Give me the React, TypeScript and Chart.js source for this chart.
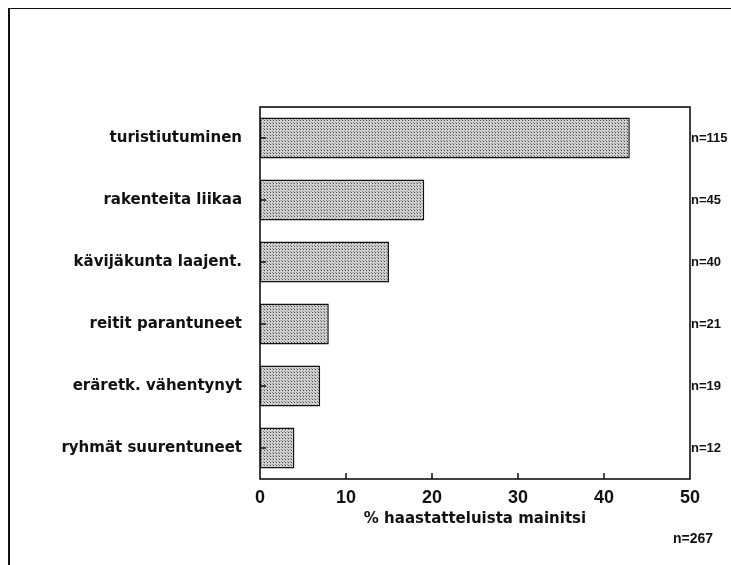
import React, { useEffect, useRef } from "react";
import { Chart, registerables } from "chart.js";

Chart.register(...registerables);

const categories = [
  "turistiutuminen",
  "rakenteita liikaa",
  "kävijäkunta laajent.",
  "reitit parantuneet",
  "eräretk. vähentynyt",
  "ryhmät suurentuneet",
];
const values = [43, 19.1, 15, 8, 7, 4];
const counts = ["n=115", "n=45", "n=40", "n=21", "n=19", "n=12"];
const xTitle = "% haastatteluista mainitsi";
const totalLabel = "n=267";
const xMin = 0;
const xMax = 50;
const xStep = 10;

const FONT = "'Liberation Sans', Arial, Helvetica, sans-serif";
const WIDE = "'DejaVu Sans', 'Liberation Sans', sans-serif";

function makePattern(): CanvasPattern | string {
  const c = document.createElement("canvas");
  c.width = 3;
  c.height = 3;
  const g = c.getContext("2d");
  if (!g) return "#bdbdbd";
  g.fillStyle = "#cfcfcf";
  g.fillRect(0, 0, 3, 3);
  g.fillStyle = "#4a4a4a";
  g.fillRect(1, 1, 1, 1);
  g.fillStyle = "#8a8a8a";
  g.fillRect(0, 0, 1, 1);
  const p = g.createPattern(c, "repeat");
  return p || "#bdbdbd";
}

const boxPlugin = {
  id: "boxPlugin",
  afterDraw(chart: any) {
    const ctx = chart.ctx as CanvasRenderingContext2D;
    const { left, right, top, bottom } = chart.chartArea;
    const xs = chart.scales.x;
    const ys = chart.scales.y;
    ctx.save();
    ctx.strokeStyle = "#111";
    ctx.lineWidth = 1.6;
    ctx.strokeRect(left, top, right - left, bottom - top);
    ctx.lineWidth = 1.5;
    ctx.beginPath();
    xs.ticks.forEach((t: any) => {
      if (t.value <= xMin || t.value >= xMax) return;
      const px = xs.getPixelForValue(t.value);
      ctx.moveTo(px, bottom);
      ctx.lineTo(px, bottom - 6);
    });
    categories.forEach((_c, i) => {
      const py = ys.getPixelForValue(i);
      ctx.moveTo(left, py);
      ctx.lineTo(left + 6, py);
    });
    ctx.stroke();
    // outer frame (top and left edges)
    ctx.lineWidth = 2;
    ctx.beginPath();
    ctx.moveTo(1, chart.height);
    ctx.lineTo(1, 0);
    ctx.lineTo(chart.width, 0);
    ctx.stroke();
    ctx.restore();
  },
};

export default function App() {
  const ref = useRef<HTMLCanvasElement | null>(null);

  useEffect(() => {
    if (!ref.current) return;
    const chart = new Chart(ref.current, {
      type: "bar",
      data: {
        labels: categories,
        datasets: [
          {
            data: values,
            backgroundColor: makePattern() as any,
            borderColor: "#111",
            borderWidth: 1.5,
            borderSkipped: false,
            barPercentage: 0.66,
            categoryPercentage: 1,
          },
        ],
      },
      options: {
        indexAxis: "y",
        responsive: true,
        maintainAspectRatio: false,
        animation: false,
        layout: { padding: { top: 99, left: 0, right: 0, bottom: 37 } },
        plugins: {
          legend: { display: false },
          tooltip: { enabled: false },
        },
        scales: {
          x: {
            type: "linear",
            min: xMin,
            max: xMax,
            grid: { display: false, drawTicks: false },
            border: { display: false },
            ticks: {
              stepSize: xStep,
              color: "#111",
              padding: 8,
              font: { family: FONT, size: 18, weight: "bold" },
            },
            title: {
              display: true,
              text: xTitle,
              color: "#111",
              padding: { top: 0, bottom: 0 },
              font: { family: WIDE, size: 15, weight: "bold" },
            },
            afterFit(scale: any) {
              scale.height = 49;
            },
          },
          y: {
            type: "category",
            position: "left",
            offset: true,
            grid: { display: false, drawTicks: false },
            border: { display: false },
            ticks: {
              color: "#111",
              padding: 18,
              font: { family: WIDE, size: 15, weight: "bold" },
            },
            afterFit(scale: any) {
              scale.width = 252;
            },
          },
          y2: {
            type: "category",
            position: "right",
            labels: counts,
            offset: true,
            grid: { display: false, drawTicks: false },
            border: { display: false },
            ticks: {
              color: "#111",
              padding: 1,
              font: { family: FONT, size: 13, weight: "bold" },
            },
            afterFit(scale: any) {
              scale.width = 41;
            },
          },
        },
      } as any,
      plugins: [boxPlugin],
    });
    return () => chart.destroy();
  }, []);

  return (
    <div style={{ position: "absolute", left: 8, top: 8, width: 723, height: 557 }}>
      <canvas ref={ref} />
      <div
        style={{
          position: "absolute",
          left: 665,
          top: 522,
          fontFamily: FONT,
          fontWeight: "bold",
          fontSize: 14,
          color: "#111",
          whiteSpace: "nowrap",
        }}
      >
        {totalLabel}
      </div>
    </div>
  );
}
